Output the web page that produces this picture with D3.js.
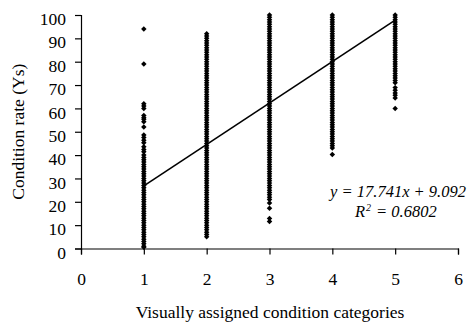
<!DOCTYPE html>
<html>
<head>
<meta charset="utf-8">
<script src="https://cdn.jsdelivr.net/npm/d3@7"></script>
<style>
  html, body { margin: 0; padding: 0; background: #fff; }
  svg { display: block; }
  text { font-family: "Liberation Serif", "Times New Roman", serif; fill: #000; }
</style>
</head>
<body>
<svg id="chart" width="468" height="324"></svg>
<script>
// Condition rate (Ys) observed for each visually assigned condition category
const categories = [1, 2, 3, 4, 5];
const cat1Values = [94, 79, 62, 61, 60, 57, 56, 55.3, 54.3, 52, 48.6, 47.5, 46.4, 45.3, 43.6, 42.4, 41.4, 40, 39, 38,
  37, 36, 35, 34, 33, 32, 31, 30, 29, 28, 27, 26, 25, 24, 23, 22, 21, 20, 19, 18,
  17, 16, 15, 14, 13, 12, 11, 10, 9, 8, 7, 6, 5, 4, 3, 2, 1, 0.5];
const cat2Values = [92, 91, 90, 89, 88, 87, 86, 85, 84, 83, 82, 81, 80, 79, 78, 77, 76, 75, 74, 73,
  72, 71, 70, 69, 68, 67, 66, 65, 64, 63, 62, 61, 60, 59, 58, 57, 56, 55, 54, 53,
  52, 51, 50, 49, 48, 47, 46, 45, 44, 43, 42, 41, 40, 39, 38, 37, 36, 35, 34, 33,
  32, 31, 30, 29, 28, 27, 26, 25, 24, 23, 22, 21, 20, 19, 18, 17, 16, 15, 14, 13,
  12, 11, 10, 9, 8, 7, 6, 5];
const cat3Values = [100, 99, 98, 97, 96, 95, 94, 93, 92, 91, 90, 89, 88, 87, 86, 85, 84, 83, 82, 81,
  80, 79, 78, 77, 76, 75, 74, 73, 72, 71, 70, 69, 68, 67, 66, 65, 64, 63, 62, 61,
  60, 59, 58, 57, 56, 55, 54, 53, 52, 51, 50, 49, 48, 47, 46, 45, 44, 43, 42, 41,
  40, 39, 38, 37, 36, 35, 34, 33, 32, 31, 30, 29, 28, 27, 26, 25, 24, 23, 22, 21,
  19.5, 17.2, 12.9, 11.6];
const cat4Values = [100, 99, 98, 97, 96, 95, 94, 93, 92, 91, 90, 89, 88, 87, 86, 85, 84, 83, 82, 81,
  80, 79, 78, 77, 76, 75, 74, 73, 72, 71, 70, 69, 68, 67, 66, 65, 64, 63, 62, 61,
  60, 59, 58, 57, 56, 55, 54, 53, 52, 51, 50, 49, 48, 47, 46, 45, 44, 43, 40.3];
const cat5Values = [100, 99, 98, 97, 96, 95, 94, 93, 92, 91, 90, 89, 88, 87, 86, 85, 84, 83, 82, 81,
  80, 79, 78, 77, 76, 75, 74, 73, 72, 71, 68.9, 67.8, 66.6, 65.6, 64.5, 60];
const seriesValues = [cat1Values, cat2Values, cat3Values, cat4Values, cat5Values];

// Linear trend fitted to the points
const slope = 17.741;
const intercept = 9.092;
const rSquared = "0.6802";

const xTicks = [0, 1, 2, 3, 4, 5, 6];
const yTicks = [0, 10, 20, 30, 40, 50, 60, 70, 80, 90, 100];
const xTitle = "Visually assigned condition categories";
const yTitle = "Condition rate (Ys)";

const serif = "'Liberation Serif', 'Times New Roman', serif";
const svg = d3.select("#chart");
const plotLeft = 81, plotRight = 458, plotTop = 15, plotBottom = 248.5;

const x = d3.scaleLinear().domain([0, 6]).range([plotLeft, plotRight]);
const y = d3.scaleLinear().domain([0, 100]).range([plotBottom, plotTop]);

const points = [];
categories.forEach((c, i) => seriesValues[i].forEach(v => points.push({ c, v })));

// filled diamond marker
const diamond = {
  draw(ctx, size) {
    const r = Math.sqrt(size / 2);
    ctx.moveTo(0, -r);
    ctx.lineTo(r, 0);
    ctx.lineTo(0, r);
    ctx.lineTo(-r, 0);
    ctx.closePath();
  }
};

// axes
const xAxis = svg.append("g")
  .attr("transform", `translate(0,${plotBottom})`)
  .call(d3.axisBottom(x).tickValues(xTicks).tickFormat(d3.format("d"))
    .tickSizeOuter(0).tickSize(6).tickPadding(18));
const yAxis = svg.append("g")
  .attr("transform", `translate(${plotLeft},0)`)
  .call(d3.axisLeft(y).tickValues(yTicks).tickFormat(d3.format("d"))
    .tickSizeOuter(0).tickSize(6).tickPadding(9));

[xAxis, yAxis].forEach(g => {
  g.selectAll("path, line").attr("stroke", "#000").attr("stroke-width", 1.2);
  g.selectAll("text").attr("font-size", 17.5).attr("font-family", serif).attr("fill", "#000");
});
yAxis.selectAll("text").attr("dy", "0.55em");

// points
svg.append("g")
  .selectAll("path")
  .data(points)
  .join("path")
  .attr("transform", d => `translate(${x(d.c)},${y(d.v)})`)
  .attr("d", d3.symbol(diamond, 15))
  .attr("fill", "#000");

// trend line
const x0 = categories[0], x1 = categories[categories.length - 1];
svg.append("line")
  .attr("x1", x(x0)).attr("y1", y(slope * x0 + intercept))
  .attr("x2", x(x1)).attr("y2", y(slope * x1 + intercept))
  .attr("stroke", "#000")
  .attr("stroke-width", 1.6);

// equation and coefficient of determination
const eq = svg.append("g")
  .attr("font-family", serif)
  .attr("font-size", 16.5)
  .attr("font-style", "italic");
eq.append("text")
  .attr("x", 466).attr("y", 197)
  .attr("text-anchor", "end")
  .text(`y = ${slope}x + ${intercept}`);
eq.append("text")
  .attr("x", 355).attr("y", 216.5)
  .text("R");
eq.append("text")
  .attr("x", 366).attr("y", 210.5)
  .attr("font-size", 10)
  .text("2");
eq.append("text")
  .attr("x", 376).attr("y", 216.5)
  .text(`= ${rSquared}`);

// axis titles
svg.append("text")
  .attr("x", 270)
  .attr("y", 318)
  .attr("text-anchor", "middle")
  .attr("font-family", serif)
  .attr("font-size", 17.5)
  .text(xTitle);
svg.append("text")
  .attr("transform", `translate(24,${(plotTop + plotBottom) / 2}) rotate(-90)`)
  .attr("text-anchor", "middle")
  .attr("font-family", serif)
  .attr("font-size", 17.5)
  .text(yTitle);
</script>
</body>
</html>
